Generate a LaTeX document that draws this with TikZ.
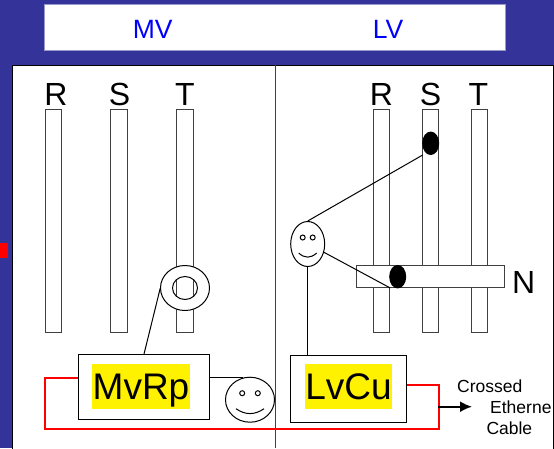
\documentclass[tikz,border=0pt]{standalone}
\usepackage{fontspec}
\setmainfont{Liberation Sans}
\usetikzlibrary{shapes.geometric,arrows.meta}
\definecolor{slidebg}{HTML}{333399}
\definecolor{topline}{HTML}{9999CC}
\definecolor{cablered}{RGB}{255,0,0}
\newcommand{\bigfont}{\fontsize{32}{32}\selectfont}
\newcommand{\facefeatures}[5]{% centre x, centre y, eye gap, smile half width, smile depth
	\draw[wire] (#1-#3,#2-6.5) circle (2.5pt) (#1+#3,#2-6.5) circle (2.5pt);
	\draw[wire] (#1-#4,#2+9) .. controls (#1-#4/3,#2+9+#5) and (#1+#4/3,#2+9+#5) .. (#1+#4,#2+9);
}
\tikzset{
	wire/.style={draw=black, line width=1pt},
	redwire/.style={draw=cablered, line width=1.7pt},
	bar/.style={rectangle, draw=black!75, fill=white, line width=1pt, minimum width=16.5pt, minimum height=223.5pt, inner sep=0pt},
	devbox/.style={rectangle, draw=black, line width=1pt, minimum height=64.5pt, inner sep=0pt},
	hilite/.style={rectangle, fill=yellow, text height=35.7pt, text depth=9.3pt, inner sep=0pt, font=\fontsize{37}{37}\selectfont},
	face/.style={ellipse, draw=black, fill=white, line width=1pt, inner sep=0pt},
	blob/.style={ellipse, fill=black, minimum width=17pt, minimum height=23.5pt, inner sep=0pt},
	phase/.style={font=\bigfont},
	voltage/.style={text=blue, font=\fontsize{26.5}{26.5}\selectfont},
	small/.style={font=\fontsize{17.5}{17.5}\selectfont, inner sep=0pt, anchor=west}
}
\begin{document}
\begin{tikzpicture}[x=1pt,y=-1pt]
	\useasboundingbox (0,0) rectangle (554,448);
	\fill[slidebg] (0,0) rectangle (554,448);
	\fill[red] (0,242.5) rectangle (7.5,258);
	\node[rectangle, draw=topline, fill=white, minimum width=460.5pt, minimum height=46pt, inner sep=0pt] (head) at (274.75,27.5) {};
	\node[voltage] (mv) at (152.7,29.5) {MV};
	\node[voltage] (lv) at (388,29.5) {LV};
	\node[rectangle, draw=black, fill=white, line width=1pt, minimum width=541.2pt, minimum height=384pt, inner sep=0pt] (panel) at (283.1,257) {};
	\draw[draw=black!75, line width=1pt] (275,65) -- (275,448);

	% phases
	\node[bar] (mvr) at (53.7,221.2) {}; \node[phase] at (56,94) {R};
	\node[bar] (mvs) at (119,221.2) {}; \node[phase] at (119.5,94) {S};
	\node[bar] (mvt) at (185,221.2) {}; \node[phase] at (185,94) {T};
	\node[bar] (lvr) at (381.7,221.2) {}; \node[phase] at (381.5,94) {R};
	\node[bar] (lvs) at (430.7,221.2) {}; \node[phase] at (430.5,94) {S};
	\node[bar] (lvt) at (479.7,221.2) {}; \node[phase] at (478.5,94) {T};
	\node[rectangle, draw=black!75, fill=white, line width=1pt, minimum width=147.7pt, minimum height=22.3pt, inner sep=0pt] (nbar) at (430.8,276.8) {};
	\node[phase] (n) at (523.7,282) {N};

	% current sensors
	\node[blob] (sdot) at (430.7,143.3) {};
	\node[blob] (ndot) at (397.7,276.7) {};
	\coordinate (sfoot) at (422.7,155);
	\coordinate (nfoot) at (390.3,288);
	\draw[wire, even odd rule, fill=white] (185,288) ellipse (24.5pt and 22.5pt) (185,288) ellipse (12.5pt and 11.5pt);
	\node[ellipse, minimum width=49pt, minimum height=45pt, inner sep=0pt] (ring) at (185,288) {};

	% devices
	\node[devbox, minimum width=131.2pt] (mvrp) at (143.9,387.2) {};
	\node[hilite, minimum width=98pt] (mvtxt) at (141,386.5) {MvRp};
	\node[devbox, minimum width=115.3pt, minimum height=67pt] (lvcu) at (348.6,388.5) {};
	\node[hilite, minimum width=87pt] (lvtxt) at (348.5,386.5) {LvCu};

	\node[face, minimum width=49pt, minimum height=45pt] (facea) at (250,399.7) {};
	\node[face, minimum width=34pt, minimum height=45pt] (faceb) at (307.7,244) {};
	\facefeatures{250}{399.7}{7.8}{14}{6.5}
	\facefeatures{307.7}{244}{5}{9}{5.5}

	\draw[wire] (ring.west) -- (mvrp.north);
	\draw[wire] (mvrp.east |- 0,377.5) -- (243,377.5);
	\draw[wire] (faceb.north) -- (sfoot);
	\draw[wire] (faceb.-27) -- (nfoot);
	\draw[wire] (faceb.south) -- (lvcu.north -| faceb.south);

	% crossed cable
	\coordinate (cablea) at (45.3,377.7);
	\coordinate (cableb) at (45.3,429);
	\coordinate (cablec) at (439,429);
	\coordinate (cabled) at (439,384.7);
	\draw[redwire] (mvrp.west |- cablea) -- (cablea) -- (cableb) -- (cablec) -- (cabled) -- (lvcu.east |- cabled);
	\coordinate (arrowstart) at (437.7,406.7);
	\node[small] (crossed) at (457,386.7) {Crossed};
	\node[small] (ether) at (490,407) {Etherne};
	\node[small] (cable) at (486.3,428) {Cable};
	\draw[-{Latex[length=12pt,width=11pt]}, line width=2pt] (arrowstart) -- (472,406.7);
\end{tikzpicture}
\end{document}
